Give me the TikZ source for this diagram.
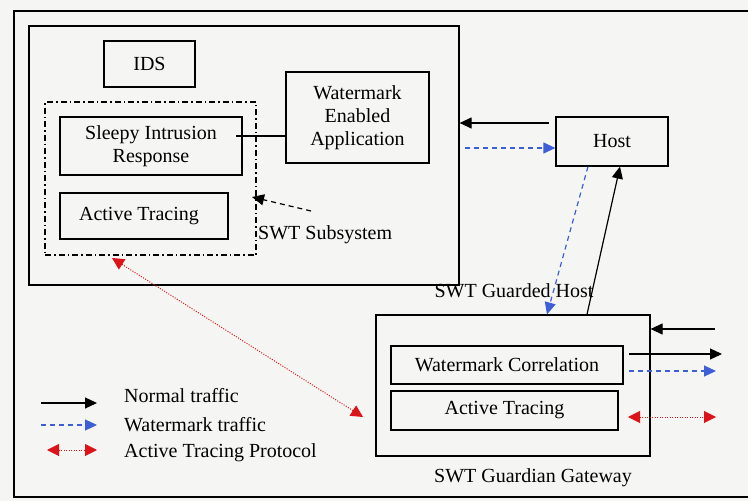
\documentclass[tikz,border=0pt]{standalone}
\usepackage{fontspec}
\setmainfont{Liberation Serif}
\usetikzlibrary{arrows.meta,calc}
\definecolor{paper}{RGB}{245,245,243}
\definecolor{wmblue}{RGB}{60,95,215}
\definecolor{atred}{RGB}{220,20,25}
\tikzset{
  box/.style={draw, line width=1.2pt, inner sep=0pt, align=center, font=\fontsize{20}{23}\selectfont},
  lbl/.style={inner sep=0pt, font=\fontsize{20}{23}\selectfont},
  normal/.style={line width=1.2pt, -{Triangle[length=12pt,width=11pt]}},
  wmark/.style={line width=1.2pt, wmblue, dash pattern=on 5pt off 4pt, -{Triangle[length=12pt,width=11pt]}},
  atp/.style={line width=1pt, atred, dash pattern=on 1pt off 1.5pt, {Triangle[length=12pt,width=12pt]}-{Triangle[length=12pt,width=12pt]}},
  dashdot/.style={draw, line width=1.2pt, dash pattern=on 6pt off 3pt on 1.5pt off 3pt}
}
\begin{document}
\begin{tikzpicture}[x=1pt,y=-1pt]
  \useasboundingbox[fill=paper] (0,0) rectangle (748,501);
  % outer frame (open on the right)
  \draw[line width=1.2pt] (748,11) -- (14,11) -- (14,497) -- (748,497);

  % SWT guarded host
  \node[box, minimum width=430pt, minimum height=259pt] (gh) at (244,155.5) {};
  \node[box, minimum width=91pt, minimum height=46pt] (ids) at (149.5,64) {IDS};
  \node[box, minimum width=143pt, minimum height=91pt] (wea) at (357.5,117.5) {Watermark\\Enabled\\Application};
  \node[dashdot, minimum width=211pt, minimum height=153pt, inner sep=0pt] (sub) at (150.5,178.5) {};
  \node[box, minimum width=182pt, minimum height=58pt] (sir) at (151,146) {Sleepy Intrusion\\Response};
  \node[box, minimum width=168pt, minimum height=46pt] (at1) at (144,216) {Active Tracing\hspace{10pt}};
  \node[lbl, anchor=west] (sublbl) at (258,235) {SWT Subsystem};
  \node[lbl] (ghlbl) at (514,291) {SWT Guarded Host};

  % host
  \node[box, minimum width=112pt, minimum height=49pt] (host) at (612,141.5) {Host};

  % SWT guardian gateway
  \node[box, minimum width=274pt, minimum height=141pt] (gw) at (513,385.5) {};
  \node[box, minimum width=232pt, minimum height=38pt] (wc) at (507,365) {Watermark Correlation};
  \node[box, minimum width=227pt, minimum height=39pt] (at2) at (504.5,410.5) {Active Tracing};
  \node[lbl] (gwlbl) at (533,478) {SWT Guardian Gateway};

  % free ends of connectors
  \coordinate (sirA) at (236,136);
  \coordinate (subA) at (311,211);
  \coordinate (subB) at (252,197);
  \coordinate (hostA) at (549,123);
  \coordinate (ghB) at (465,148);
  \coordinate (gwInA) at (715,329);
  \coordinate (gwOutB) at (722,354);
  \coordinate (wmOutA) at (629,371);
  \coordinate (wmOutB) at (716,371);
  \coordinate (atA) at (628,417);
  \coordinate (atB) at (716,417);
  \coordinate (diagA) at (112,258);
  \coordinate (diagB) at (363,417);

  % connectors
  \draw[line width=1.2pt] (sirA) -- (sirA -| wea.west);
  \draw[line width=1.2pt, dash pattern=on 5pt off 4pt, -{Triangle[length=12pt,width=11pt]}] (subA) -- (subB);
  \draw[normal] (hostA) -- (hostA -| gh.east);
  \draw[wmark] (ghB) -- (ghB -| host.west);
  \draw[wmark] (host.south -| 588,0) -- (gw.north -| 547,0);
  \draw[normal] (gw.north -| 587,0) -- (host.south -| 620,0);
  \draw[normal] (gwInA) -- (gwInA -| gw.east);
  \draw[normal] (gwOutB -| 629,0) -- (gwOutB);
  \draw[wmark] (wmOutA) -- (wmOutB);
  \draw[atp] (atA) -- (atB);
  \draw[atp] (diagA) -- (diagB);

  % legend
  \coordinate (lg1) at (41,403);
  \coordinate (lg2) at (41,425);
  \coordinate (lg3) at (47,450);
  \draw[normal] (lg1) -- ++(56,0);
  \draw[wmark] (lg2) -- ++(56,0);
  \draw[atp] (lg3) -- ++(50,0);
  \node[lbl, anchor=west] (lgt1) at (124,396) {Normal traffic};
  \node[lbl, anchor=west] (lgt2) at (124,425) {Watermark traffic};
  \node[lbl, anchor=west] (lgt3) at (124,453) {Active Tracing Protocol};
\end{tikzpicture}
\end{document}
